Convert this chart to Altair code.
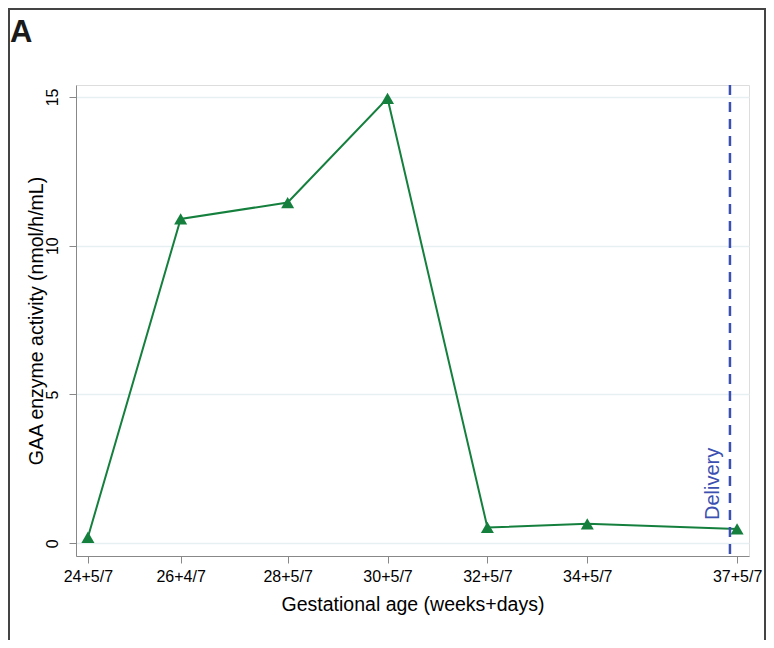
import altair as alt
import pandas as pd

# Data
weeks = [24, 26, 28, 30, 32, 34, 37]
days = [5, 4, 5, 5, 5, 5, 5]
gaa_activity = [0.2, 10.9, 11.45, 14.95, 0.53, 0.65, 0.48]
delivery_week = [37]
delivery_day = [4]
y_ticks = [0, 5, 10, 15]

df = pd.DataFrame({
    "gday": [w * 7 + d for w, d in zip(weeks, days)],
    "gaa": gaa_activity,
})
deliv = pd.DataFrame({
    "gday": [w * 7 + d for w, d in zip(delivery_week, delivery_day)],
    "label": ["Delivery"],
    "ypos": [0.78],
})

FONT = "Liberation Sans"
GREEN = "#15803e"
BLUE = "#3b50b0"

xscale = alt.Scale(domain=[171.33, 265.67], nice=False, zero=False)
yscale = alt.Scale(domain=[-0.43, 15.4], nice=False, zero=False)

xaxis = alt.Axis(
    values=list(df["gday"]),
    labelExpr="floor(datum.value / 7) + '+' + (datum.value % 7) + '/7'",
    title="Gestational age (weeks+days)",
    grid=False,
    tickSize=7,
    labelPadding=5,
    labelFontSize=16,
    titleFontSize=19.5,
    titleBaseline="alphabetic",
    titleY=54,
    titleFontWeight="normal",
)
yaxis = alt.Axis(
    values=y_ticks,
    title="GAA enzyme activity (nmol/h/mL)",
    grid=True,
    gridColor="#e6eff2",
    gridWidth=1.5,
    tickSize=7,
    labelAngle=270,
    labelAlign="center",
    labelBaseline="alphabetic",
    labelPadding=12,
    labelFontSize=16,
    titleFontSize=19.5,
    titleAngle=270,
    titleBaseline="alphabetic",
    titleX=-34,
    titleFontWeight="normal",
)

base = alt.Chart(df)

line = base.mark_line(color=GREEN, strokeWidth=2).encode(
    x=alt.X("gday:Q", scale=xscale, axis=xaxis),
    y=alt.Y("gaa:Q", scale=yscale, axis=yaxis),
)
pts = base.mark_point(shape="triangle-up", filled=True, size=170, color=GREEN, opacity=1).encode(
    x=alt.X("gday:Q", scale=xscale),
    y=alt.Y("gaa:Q", scale=yscale),
)
rule = alt.Chart(deliv).mark_rule(color=BLUE, strokeWidth=2.5, strokeDash=[10, 7]).encode(
    x=alt.X("gday:Q", scale=xscale),
)
dtext = alt.Chart(deliv).mark_text(
    angle=270, align="left", baseline="alphabetic", dy=-11,
    fontSize=20, color=BLUE, font=FONT,
).encode(
    x=alt.X("gday:Q", scale=xscale),
    y=alt.Y("ypos:Q", scale=yscale),
    text="label:N",
)

frame_df = pd.DataFrame({"k": [0]})
frame = alt.Chart(frame_df).mark_rect(
    filled=False, stroke="#444444", strokeWidth=2, clip=False
).encode(
    x=alt.value(-67), x2=alt.value(689), y=alt.value(-76), y2=alt.value(600),
)
panel = alt.Chart(pd.DataFrame({"t": ["A"]})).mark_text(
    align="left", baseline="alphabetic", fontSize=31, fontWeight="bold",
    font=FONT, color="#1a1a1a", clip=False,
).encode(x=alt.value(-66), y=alt.value(-43), text="t:N")

chart = alt.layer(line, rule, pts, dtext, frame, panel).properties(
    width=673, height=471,
    autosize=alt.AutoSizeParams(type="none"),
    padding={"left": 68, "top": 77, "right": 17, "bottom": 84},
).configure_view(stroke=None).configure_axis(
    domainColor="black", domainWidth=1.5, tickColor="black", tickWidth=1.5,
    labelColor="black", titleColor="black", labelFont=FONT, titleFont=FONT,
).configure(background="white")

chart.save("out.html", embed_options={"renderer": "svg", "actions": False})
